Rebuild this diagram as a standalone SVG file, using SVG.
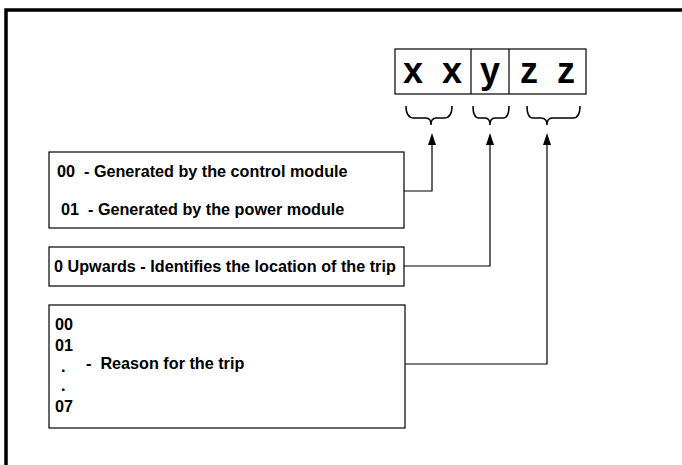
<svg xmlns="http://www.w3.org/2000/svg" width="682" height="465" viewBox="0 0 682 465">
<style>
.box{fill:#fff;stroke:#000;stroke-width:1.2}
.t{font-family:"Liberation Sans",Arial,sans-serif;font-weight:bold;font-size:16.2px;fill:#000;white-space:pre}
.big{font-family:"Liberation Sans",Arial,sans-serif;font-weight:bold;font-size:36px;fill:#000;text-anchor:middle}
.ln{fill:none;stroke:#000;stroke-width:1.2}
.br{fill:none;stroke:#000;stroke-width:1.5}
.ah{fill:#000}
</style>
<rect x="6" y="10" width="700" height="480" fill="none" stroke="#000" stroke-width="3.5"/>
<g id="code">
<rect class="box" x="395" y="49" width="191" height="45"/>
<line class="ln" x1="471" y1="49" x2="471" y2="94"/>
<line class="ln" x1="509" y1="49" x2="509" y2="94"/>
<text class="big" x="413" y="83">x</text>
<text class="big" x="452" y="83">x</text>
<text class="big" x="490" y="83">y</text>
<text class="big" x="529" y="83">z</text>
<text class="big" x="566" y="83">z</text>
</g>
<g id="braces">
<path class="br" d="M406,106 Q406,118 414,118 L426,118 Q431,118 431,125 Q431,118 436,118 L444,118 Q452,118 452,106"/>
<path class="br" d="M473,106 Q473,118 479,118 L485,118 Q490,118 490,125 Q490,118 495,118 L503,118 Q509,118 509,106"/>
<path class="br" d="M527,106 Q527,118 533,118 L541,118 Q547,118 547,125 Q547,118 552,118 L573,118 Q580,118 580,106"/>
</g>
<g id="box-xx">
<rect class="box" x="49" y="152" width="355" height="76"/>
<text class="t" x="57" y="177" xml:space="preserve">00  - Generated by the control module</text>
<text class="t" x="61" y="215" xml:space="preserve">01  - Generated by the power module</text>
</g>
<g id="box-y">
<rect class="box" x="49" y="247" width="355" height="39"/>
<text class="t" x="54" y="272">0 Upwards - Identifies the location of the trip</text>
</g>
<g id="box-zz">
<rect class="box" x="49" y="305" width="356" height="123"/>
<text class="t" x="55" y="330">00</text>
<text class="t" x="55" y="351">01</text>
<text class="t" x="61" y="372">.</text>
<text class="t" x="61" y="391">.</text>
<text class="t" x="55" y="412">07</text>
<text class="t" x="86" y="369" xml:space="preserve">-  Reason for the trip</text>
</g>
<g id="connectors">
<polyline class="ln" points="404,191 432,191 432,144"/>
<polyline class="ln" points="404,266 490,266 490,144"/>
<polyline class="ln" points="405,364 547,364 547,144"/>
<polygon class="ah" points="432,133 428,145 436,145"/>
<polygon class="ah" points="490,133 486,145 494,145"/>
<polygon class="ah" points="547,133 543,145 551,145"/>
</g>
</svg>
